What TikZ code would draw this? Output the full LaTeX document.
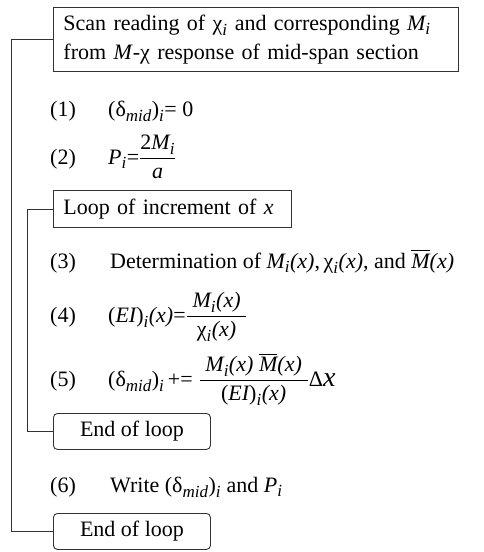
\documentclass[tikz,border=0pt]{standalone}
\usepackage{amsmath}
\usepackage{fontspec}
\setmainfont{Liberation Serif}
\usetikzlibrary{positioning}
\DeclareMathSizes{22}{22}{17}{13}

\newcommand{\tv}[1]{\text{\itshape #1}}
\newcommand{\dmid}{\text{(δ}_{\tv{mid}}\text{)}_{\tv{i}}}
\newcommand{\eii}{\text{(}\tv{EI}\text{)}_{\tv{i}}}

\begin{document}
\begin{tikzpicture}[x=1pt, y=-1pt, every node/.style={font=\fontsize{22}{29}\selectfont},
	plainbox/.style={draw=black!80, line width=0.9pt, inner xsep=10pt, inner ysep=0pt, align=left},
	endbox/.style={draw=black!80, line width=0.9pt, rounded corners=4pt, minimum width=157pt, minimum height=36pt, inner sep=0pt},
	txt/.style={inner sep=0pt, anchor=base west},
	link/.style={draw=black!80, line width=0.9pt}]
	\useasboundingbox (0,0) rectangle (484,552);
	% boxes
	\node[plainbox, anchor=north west, minimum width=405pt, minimum height=64pt, text width=385pt] (scan) at (53,7)
		{Scan reading of $\text{χ}_{\tv{i}}$ and corresponding $\tv{M}_{\tv{i}}$\\ from \textit{M}-χ response of mid-span section};
	\node[plainbox, anchor=north west, minimum width=238pt, minimum height=37pt, text width=218pt] (loop) at (53,190)
		{Loop of increment of \textit{x}};
	\node[endbox, anchor=north west] (endin) at (53,413) {End of loop};
	\node[endbox, anchor=north west] (endout) at (53,513) {End of loop};
	% steps
	\node[txt] (n1) at (50,116) {(1)};
	\node[txt] (f1) at (108,116) {$\dmid\text{= 0}$};
	\node[txt] (n2) at (50,164) {(2)};
	\node[txt] (f2) at (108,164) {$\tv{P}_{\tv{i}}\text{=}\dfrac{\text{2}\tv{M}_{\tv{i}}}{\tv{a}}$};
	\node[txt] (n3) at (50,268) {(3)};
	\node[txt] (f3) at (110,268) {Determination of $\tv{M}_{\tv{i}}\tv{(x)}$,\,$\text{χ}_{\tv{i}}\tv{(x)}$, and $\overline{\tv{M}}\tv{(x)}$};
	\node[txt] (n4) at (50,322) {(4)};
	\node[txt] (f4) at (108,322) {$\eii\tv{(x)}\text{=}\dfrac{\;\tv{M}_{\tv{i}}\tv{(x)}\;}{\text{χ}_{\tv{i}}\tv{(x)}}$};
	\node[txt] (n5) at (50,386) {(5)};
	\node[txt] (f5) at (108,386) {$\dmid\,\text{+=}\;\dfrac{\;\tv{M}_{\tv{i}}\tv{(x)}\;\overline{\tv{M}}\tv{(x)}\;}{\eii\tv{(x)}}\text{Δ{\fontsize{28}{28}\selectfont\itshape x}}$};
	\node[txt] (n6) at (50,492) {(6)};
	\node[txt] (f6) at (110,492) {Write $\dmid$ and $\tv{P}_{\tv{i}}$};
	% loop lines
	\coordinate (outerx) at (11,0);
	\coordinate (innerx) at (27,0);
	\draw[link] (scan.west) -- (scan.west -| outerx) |- (endout.west);
	\draw[link] (loop.west) -- (loop.west -| innerx) |- (endin.west);
\end{tikzpicture}
\end{document}
